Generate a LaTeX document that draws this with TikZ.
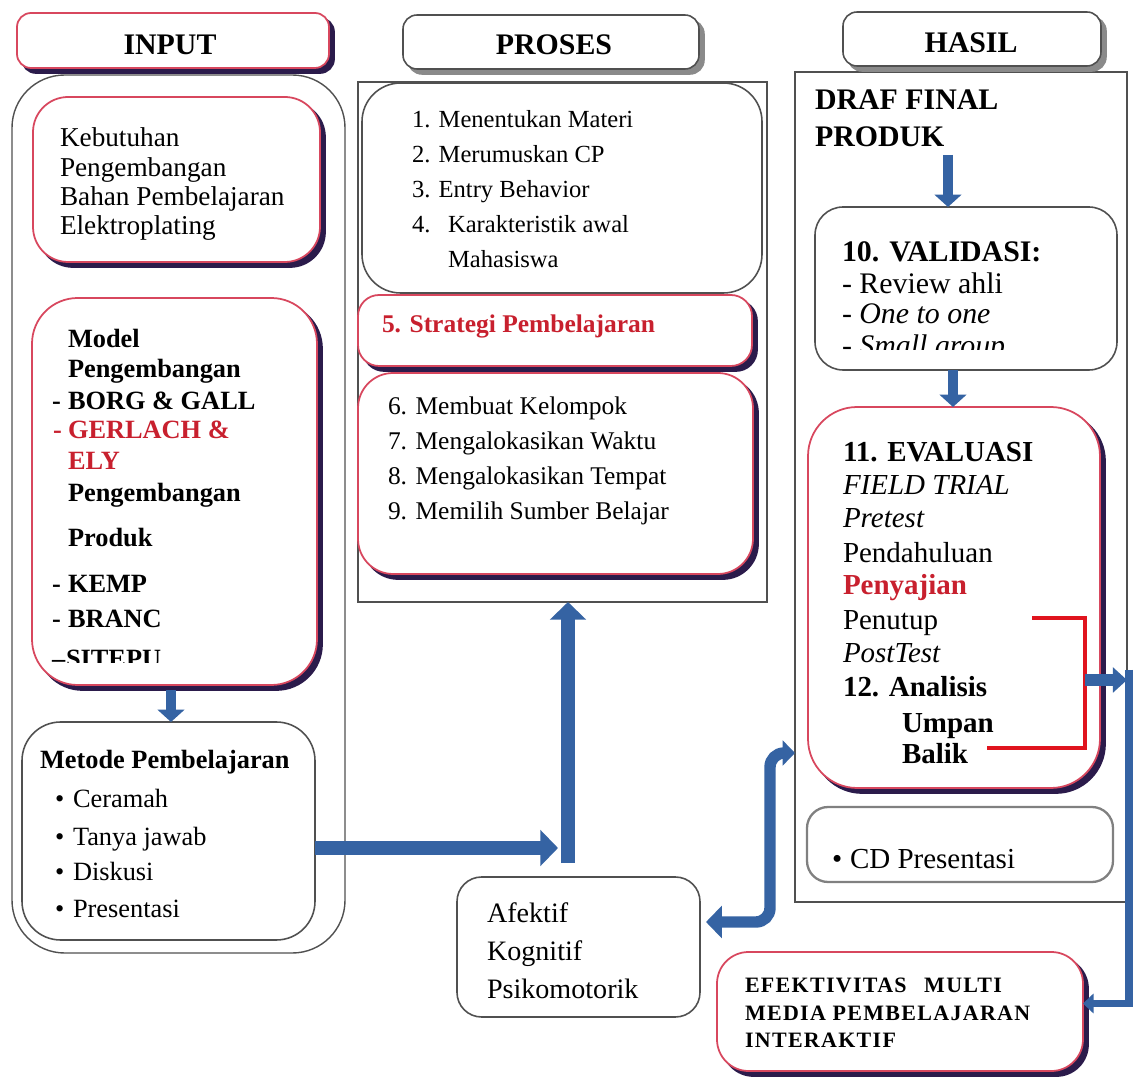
\documentclass[tikz,border=0pt]{standalone}
\usepackage{fontspec}
\setmainfont{Liberation Serif}
\usetikzlibrary{arrows.meta,calc}
\definecolor{boxred}{HTML}{D8475E}
\definecolor{shadowcol}{HTML}{2B1B4B}
\definecolor{shgray}{HTML}{8A8A8A}
\definecolor{boxgray}{HTML}{505050}
\definecolor{txtred}{HTML}{C8202E}
\definecolor{arrowblue}{HTML}{3563A3}
\definecolor{brred}{HTML}{E0141E}
\newcommand\fsz[1]{\fontsize{#1}{#1}\selectfont}
\newcommand\mkbox[6]{\node[#1, minimum width={(#5-#3)*0.02cm}, minimum height={(#6-#4)*0.02cm}, inner sep=0pt, outer sep=0pt] (#2) at ({(#3+#5)/2},{(#4+#6)/2}) {};}
\newcommand\mkshbox[7]{\node[#1, fill=#2, draw=#2, minimum width={(#6-#4)*0.02cm}, minimum height={(#7-#5)*0.02cm}, inner sep=0pt, outer sep=0pt] (#3-sh) at ({(#4+#6)/2+5},{(#5+#7)/2+5}) {};%
\mkbox{#1}{#3}{#4}{#5}{#6}{#7}}
\tikzset{
 rbox/.style={draw=boxred, line width=1pt, fill=white},
 gbox/.style={draw=boxgray, line width=0.9pt, fill=white},
 t/.style={anchor=base west, inner sep=0pt, outer sep=0pt},
 hdr/.style={anchor=base, inner sep=0pt, font=\fsz{17}\bfseries},
 smarrow/.style={draw=arrowblue, line width=6pt, -{Triangle[width=15pt,length=7pt]}},
 bigarrow/.style={draw=arrowblue, line width=8pt, -{Triangle[width=20pt,length=10pt]}},
 dblarrow/.style={draw=arrowblue, line width=6.5pt, {Triangle[width=18pt,length=9pt]}-{Triangle[width=14pt,length=7pt]}, rounded corners=8pt},
 medarrow/.style={draw=arrowblue, line width=7pt, -{Triangle[width=14pt,length=8pt]}},
 thinblue/.style={draw=arrowblue, line width=4.5pt, -{Triangle[width=11pt,length=6pt]}},
 redline/.style={draw=brred, line width=2.3pt},
 fK/.style={font=\fsz{15.5}},
 fM/.style={font=\fsz{15}\bfseries},
 fMt/.style={font=\fsz{15}},
 fP/.style={font=\fsz{14}},
 fP2/.style={font=\fsz{14.5}},
 fA/.style={font=\fsz{16}},
 fH/.style={font=\fsz{17}},
 fE/.style={font=\fsz{16.5}},
 fF/.style={font=\fsz{12.5}\bfseries\addfontfeatures{LetterSpace=6}},
}
\begin{document}
\begin{tikzpicture}[x=0.02cm,y=-0.02cm]
\useasboundingbox (0,0) rectangle (1133,1077);
\fill[white] (0,0) rectangle (1133,1077);

% containers
\mkbox{gbox, rounded corners=30pt, line width=0.8pt}{incont}{12}{75}{345}{953}
\mkbox{gbox}{procont}{358}{82}{767}{602}
\mkbox{gbox}{hascont}{795}{72}{1127}{902}

% headers
\mkshbox{rbox, rounded corners=8pt}{shadowcol}{hinput}{17}{13}{329}{68}
\mkshbox{gbox, rounded corners=8pt}{shgray}{hproses}{403}{15}{699}{69}
\mkshbox{gbox, rounded corners=8pt}{shgray}{hhasil}{843}{12}{1101}{66}
\node[hdr] (tinput) at (170,55) {INPUT};
\node[hdr] (tproses) at (554,55) {PROSES};
\node[hdr] (thasil) at (971,53) {HASIL};

% INPUT column
\mkshbox{rbox, rounded corners=20pt}{shadowcol}{kebbox}{33}{97}{320}{262}
\node[t,fK] (k1) at (60,147) {Kebutuhan};
\node[t,fK] (k2) at (60,177) {Pengembangan};
\node[t,fK] (k3) at (60,206) {Bahan Pembelajaran};
\node[t,fK] (k4) at (60,235) {Elektroplating};

\mkshbox{rbox, rounded corners=26pt}{shadowcol}{modbox}{32}{298}{317}{685}
\node[t,fM] (m1) at (68,348) {Model};
\node[t,fM] (m2) at (68,378) {Pengembangan};
\node[t,fM] (m3d) at (52,410) {-};
\node[t,fM] (m3) at (68,410) {BORG \& GALL};
\node[t,fM,text=txtred] (m4d) at (53,439) {-};
\node[t,fM,text=txtred] (m4) at (68,439) {GERLACH \&};
\node[t,fM,text=txtred] (m5) at (68,470) {ELY};
\node[t,fM] (m6) at (68,502) {Pengembangan};
\node[t,fM] (m7) at (68,547) {Produk};
\node[t,fM] (m8d) at (52,593) {-};
\node[t,fM] (m8) at (68,593) {KEMP};
\node[t,fM] (m9d) at (52,628) {-};
\node[t,fM] (m9) at (68,628) {BRANC};
\begin{scope}
\clip (40,600) rectangle (300,663);
\node[t,fM] (m10d) at (52,667) {–};
\node[t,fM] (m10) at (66,667) {SITEPU};
\end{scope}

\mkbox{gbox, rounded corners=22pt}{metbox}{22}{722}{315}{940}
\node[t,fM] (mt0) at (40,768) {Metode Pembelajaran};
\node[t,fMt] (b1) at (55,807) {•};
\node[t,fMt] (mt1) at (73,807) {Ceramah};
\node[t,fMt] (b2) at (55,845) {•};
\node[t,fMt] (mt2) at (73,845) {Tanya jawab};
\node[t,fMt] (b3) at (55,880) {•};
\node[t,fMt] (mt3) at (73,880) {Diskusi};
\node[t,fMt] (b4) at (55,917) {•};
\node[t,fMt] (mt4) at (73,917) {Presentasi};

% PROSES column
\mkbox{gbox, rounded corners=22pt}{p14box}{362}{83}{762}{293}
\node[t,fP] (p1) at (412,128) {1. Menentukan Materi};
\node[t,fP] (p2) at (412,163) {2. Merumuskan CP};
\node[t,fP] (p3) at (412,198) {3. Entry Behavior};
\node[t,fP] (p4n) at (412,233) {4.};
\node[t,fP] (p4) at (448,233) {Karakteristik awal};
\node[t,fP] (p4b) at (448,268) {Mahasiswa};

\mkshbox{rbox, rounded corners=12pt}{shadowcol}{strbox}{358}{295}{752}{366}
\node[t,fP2,font=\fsz{14.5}\bfseries,text=txtred] (p5) at (382,333) {5. Strategi Pembelajaran};

\mkshbox{rbox, rounded corners=20pt}{shadowcol}{p69box}{358}{373}{753}{574}
\node[t,fP2] (p6) at (388,415) {6. Membuat Kelompok};
\node[t,fP2] (p7) at (388,450) {7. Mengalokasikan Waktu};
\node[t,fP2] (p8) at (388,485) {8. Mengalokasikan Tempat};
\node[t,fP2] (p9) at (388,520) {9. Memilih Sumber Belajar};

\mkbox{gbox, rounded corners=14pt}{afebox}{457}{877}{700}{1017}
\node[t,fA] (a1) at (487,922) {Afektif};
\node[t,fA] (a2) at (487,960) {Kognitif};
\node[t,fA] (a3) at (487,998) {Psikomotorik};

% HASIL column
\node[t,fH,font=\fsz{17}\bfseries] (d1) at (815,110) {DRAF FINAL};
\node[t,fH,font=\fsz{17}\bfseries] (d2) at (815,147) {PRODUK};

\mkbox{gbox, rounded corners=16pt}{valbox}{815}{207}{1117}{370}
\node[t,fH,font=\fsz{17}\bfseries] (v1) at (842,262) {10. VALIDASI:};
\node[t,fH] (v2) at (842,294) {- Review ahli};
\node[t,fH] (v3) at (842,324) {- \textit{One to one}};
\begin{scope}
\clip (830,300) rectangle (1100,350);
\node[t,fH] (v4) at (842,356) {- \textit{Small group}};
\end{scope}

\mkshbox{rbox, rounded corners=28pt}{shadowcol}{evabox}{808}{407}{1100}{788}
\node[t,fE,font=\fsz{16.5}\bfseries] (e1) at (843,462) {11. EVALUASI};
\node[t,fE] (e2) at (843,495) {\textit{FIELD TRIAL}};
\node[t,fE] (e3) at (843,528) {\textit{Pretest}};
\node[t,fE] (e4) at (843,563) {Pendahuluan};
\node[t,fE,font=\fsz{16.5}\bfseries,text=txtred] (e5) at (843,595) {Penyajian};
\node[t,fE] (e6) at (843,630) {Penutup};
\node[t,fE] (e7) at (843,663) {\textit{PostTest}};
\node[t,fE,font=\fsz{16.5}\bfseries] (e8) at (843,697) {12. Analisis};
\node[t,fE,font=\fsz{16.5}\bfseries] (e9) at (902,732) {Umpan};
\node[t,fE,font=\fsz{16.5}\bfseries] (e10) at (902,763) {Balik};

\mkbox{gbox, rounded corners=12pt, draw=gray, line width=1.3pt}{cdbox}{807}{807}{1113}{882}
\node[t,fE] (cdb) at (832,868) {•};
\node[t,fE] (cd) at (850,868) {CD Presentasi};

\mkshbox{rbox, rounded corners=18pt}{shadowcol}{effbox}{717}{952}{1083}{1071}
\node[t,fF] (f1) at (745,992) {EFEKTIVITAS\hspace{0.8em}MULTI};
\node[t,fF] (f2) at (745,1020) {MEDIA PEMBELAJARAN};
\node[t,fF] (f3) at (745,1047) {INTERAKTIF};

% bracket
\coordinate (brk) at (1085,680);
\coordinate (brtop) at (1032,618);
\coordinate (brbot) at (987,748);
\draw[redline] (brtop) -| (brk) |- (brbot);

% connectors
\coordinate (xa) at (171,0);
\draw[smarrow] (xa |- modbox-sh.south) -- (xa |- metbox.north);

\coordinate (jn) at (568,863);
\coordinate (hend) at (558,848);
\draw[bigarrow] (metbox.east |- hend) -- (hend);
\draw[bigarrow] (jn) -- (jn |- procont.south);

\coordinate (dtop) at (770,753);
\draw[dblarrow] ($(afebox.east)+(6,-25)$) -| (dtop) -- (dtop -| hascont.west);

\coordinate (xb) at (948,155);
\draw[smarrow] (xb) -- (xb |- valbox.north);
\coordinate (xc) at (953,0);
\draw[smarrow] (xc |- valbox.south) -- (xc |- evabox.north);

\draw[medarrow] (brk) -- (brk -| hascont.east);
\coordinate (vr) at (1129,670);
\draw[thinblue] (vr) |- ($(effbox.east)+(0,-8)$);
\end{tikzpicture}
\end{document}
